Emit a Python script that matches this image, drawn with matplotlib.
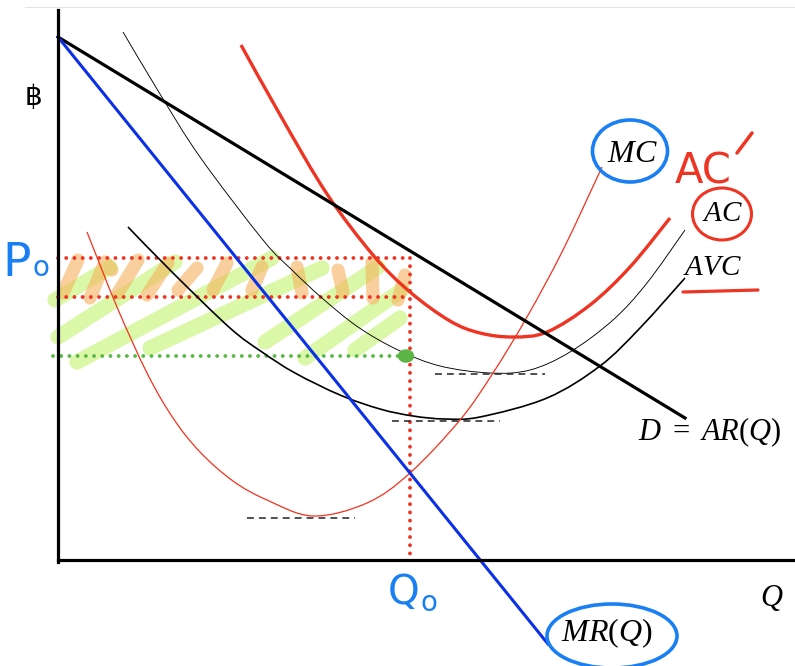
import matplotlib
matplotlib.use('Agg')
import matplotlib.pyplot as plt
from matplotlib.patches import Ellipse, PathPatch
from matplotlib.path import Path

plt.rcParams['mathtext.fontset'] = 'custom'
plt.rcParams['mathtext.it'] = 'Liberation Serif:italic'
plt.rcParams['mathtext.rm'] = 'Liberation Serif'

# ---- values (Q along x, price along y) ----
d_q = [0, 627]
d_p = [523, 142]
mr_q = [0, 490]
mr_p = [523, -84]

# AC' (shifted average cost, thick red)
acs_q = [183, 225, 269, 315, 352, 392, 422, 455, 489, 532, 572, 612]
acs_p = [515, 440, 366, 305, 268, 239, 227, 223, 228, 255, 293, 342]
# AC (thin black)
ac_q = [65, 102, 142, 205, 234, 264, 300, 340, 382, 432, 472, 512, 555, 589, 627]
ac_p = [528, 466, 403, 320, 290, 262, 233, 210, 194, 187, 190, 208, 240, 277, 330]
# AVC (black)
avc_q = [70, 115, 172, 204, 237, 282, 322, 355, 387, 422, 489, 542, 582, 627]
avc_p = [333, 287, 232, 208, 187, 165, 151, 144, 141, 143, 162, 194, 232, 282]
# MC (thin red)
mc_q = [29, 59, 89, 115, 142, 175, 209, 255, 309, 352, 402, 435, 469, 505, 544]
mc_p = [328, 253, 187, 142, 108, 79, 60, 44, 57, 87, 140, 187, 243, 310, 393]

# minima tangents: (q start, q end, p)
tangents = [(189, 297, 42), (334, 442, 139), (377, 487, 186)]

q0 = 352
p0 = 302
p_low = 263
p_avc = 204

# hatching strokes
green_strokes = [
    ([-3, 52], [260, 293]),
    ([0, 117], [223, 298]),
    ([19, 214], [198, 302]),
    ([92, 264], [212, 292]),
    ([207, 320], [218, 293]),
    ([247, 344], [202, 270]),
    ([297, 342], [210, 242]),
]
orange_strokes = [
    ([5, 20], [267, 300]),
    ([32, 47, 54], [262, 298, 290]),
    ([60, 80], [267, 300]),
    ([89, 110], [265, 297]),
    ([120, 139], [270, 292]),
    ([155, 169], [270, 297]),
    ([194, 204], [270, 293]),
    ([239, 244], [293, 267]),
    ([280, 285], [290, 268]),
    ([314, 315], [298, 262]),
    ([347, 340], [285, 260]),
]

red = '#ee3524'
hand_blue = '#1a7ff2'


def curve(xs, ys):
    # smooth path running through every read point (Catmull-Rom as bezier)
    pts = list(zip(xs, ys))
    verts = [pts[0]]
    codes = [Path.MOVETO]
    n = len(pts)
    for i in range(n - 1):
        p_prev = pts[i - 1] if i > 0 else pts[i]
        p_a = pts[i]
        p_b = pts[i + 1]
        p_next = pts[i + 2] if i + 2 < n else pts[i + 1]
        c1 = (p_a[0] + (p_b[0] - p_prev[0]) / 6.0, p_a[1] + (p_b[1] - p_prev[1]) / 6.0)
        c2 = (p_b[0] - (p_next[0] - p_a[0]) / 6.0, p_b[1] - (p_next[1] - p_a[1]) / 6.0)
        verts += [c1, c2, p_b]
        codes += [Path.CURVE4] * 3
    return Path(verts, codes)


fig = plt.figure(figsize=(7.95, 6.66), dpi=100)
ax = fig.add_axes([0, 0, 1, 1])
ax.set_xlim(-58, 737)
ax.set_ylim(-106, 560)
ax.axis('off')

# faint frame line at top
ax.plot([-33, 737], [553, 553], color='#e4e4e4', lw=0.8)

# hatched area
for xs, ys in green_strokes:
    ax.plot(xs, ys, color='#c8f57c', alpha=0.65, lw=11, solid_capstyle='round', zorder=1)
for xs, ys in orange_strokes:
    ax.plot(xs, ys, color='#f5b25c', alpha=0.6, lw=9.5, solid_capstyle='round',
            solid_joinstyle='round', zorder=1.5)

# axes
ax.plot([0, 0], [-2, 550], color='black', lw=2.3, zorder=5)
ax.plot([0, 737], [0, 0], color='black', lw=2.3, zorder=5)

# curves
ax.plot(d_q, d_p, color='black', lw=2.3, zorder=4)
ax.plot(mr_q, mr_p, color='#0b30e6', lw=2.2, zorder=4)
ax.add_patch(PathPatch(curve(acs_q, acs_p), fill=False, ec=red, lw=2.4, zorder=3))
ax.add_patch(PathPatch(curve(ac_q, ac_p), fill=False, ec='black', lw=0.65, zorder=3))
ax.add_patch(PathPatch(curve(avc_q, avc_p), fill=False, ec='black', lw=1.2, zorder=3))
ax.add_patch(PathPatch(curve(mc_q, mc_p), fill=False, ec='#f2321c', lw=0.9, zorder=3))

for qa, qb, p in tangents:
    ax.plot([qa, qb], [p, p], color='#222222', lw=1.1, linestyle=(0, (4.5, 3.3)), zorder=3)

# dotted guides
dot = (0, (0.01, 2.1))
ax.plot([0, q0], [p0, p0], color=red, lw=2.8, linestyle=dot, dash_capstyle='round', zorder=2)
ax.plot([0, q0], [p_low, p_low], color=red, lw=2.8, linestyle=dot, dash_capstyle='round', zorder=2)
ax.plot([q0, q0], [p0, 0], color=red, lw=2.8, linestyle=dot, dash_capstyle='round', zorder=2)
ax.plot([-5, q0 - 10], [p_avc, p_avc], color='#5cb947', lw=2.8, linestyle=dot,
        dash_capstyle='round', zorder=2)
ax.add_patch(Ellipse((q0 - 4, p_avc), 15, 12, color='#5db446', zorder=6))

# labels
ax.text(-25, 463, '\u0e3f', fontsize=20, ha='center', va='center',
        family=['DejaVu Sans', 'Noto Sans', 'Noto Sans CJK SC'])
ax.text(-27, 284, 'P', fontsize=34, color=hand_blue, ha='right', va='baseline')
ax.text(-26, 284, 'o', fontsize=20, color=hand_blue, ha='left', va='baseline')
ax.text(362, -44, 'Q', fontsize=29, color=hand_blue, ha='right', va='baseline')
ax.text(363, -51, 'o', fontsize=20, color=hand_blue, ha='left', va='baseline')

ax.text(714, -38, r'$Q$', fontsize=22, ha='center', va='center')
ax.text(652, 128, r'$D\ =\ AR(Q)$', fontsize=22, ha='center', va='center')

ax.text(574, 406, r'$MC$', fontsize=23, ha='center', va='center', zorder=7)
ax.add_patch(Ellipse((572, 409), 75, 62, fill=False, ec=hand_blue, lw=2.6, zorder=7))

ax.text(645, 388, 'AC', fontsize=30, color=red, ha='center', va='center')
ax.plot([679, 694], [407, 427], color=red, lw=2.5, solid_capstyle='round')

ax.text(665, 347, r'$AC$', fontsize=21, ha='center', va='center', zorder=7)
ax.add_patch(Ellipse((664, 346), 59, 52, fill=False, ec=red, lw=2.2, zorder=7))

ax.text(654, 293, r'$AVC$', fontsize=21, ha='center', va='center')
ax.plot([625, 700], [268, 270], color=red, lw=2.3, solid_capstyle='round')

ax.text(549, -73, r'$MR(Q)$', fontsize=23, ha='center', va='center', zorder=7)
ax.add_patch(Ellipse((554, -76), 130, 64, fill=False, ec=hand_blue, lw=2.6, zorder=7))

fig.savefig('out.png', dpi=100, facecolor='white')
